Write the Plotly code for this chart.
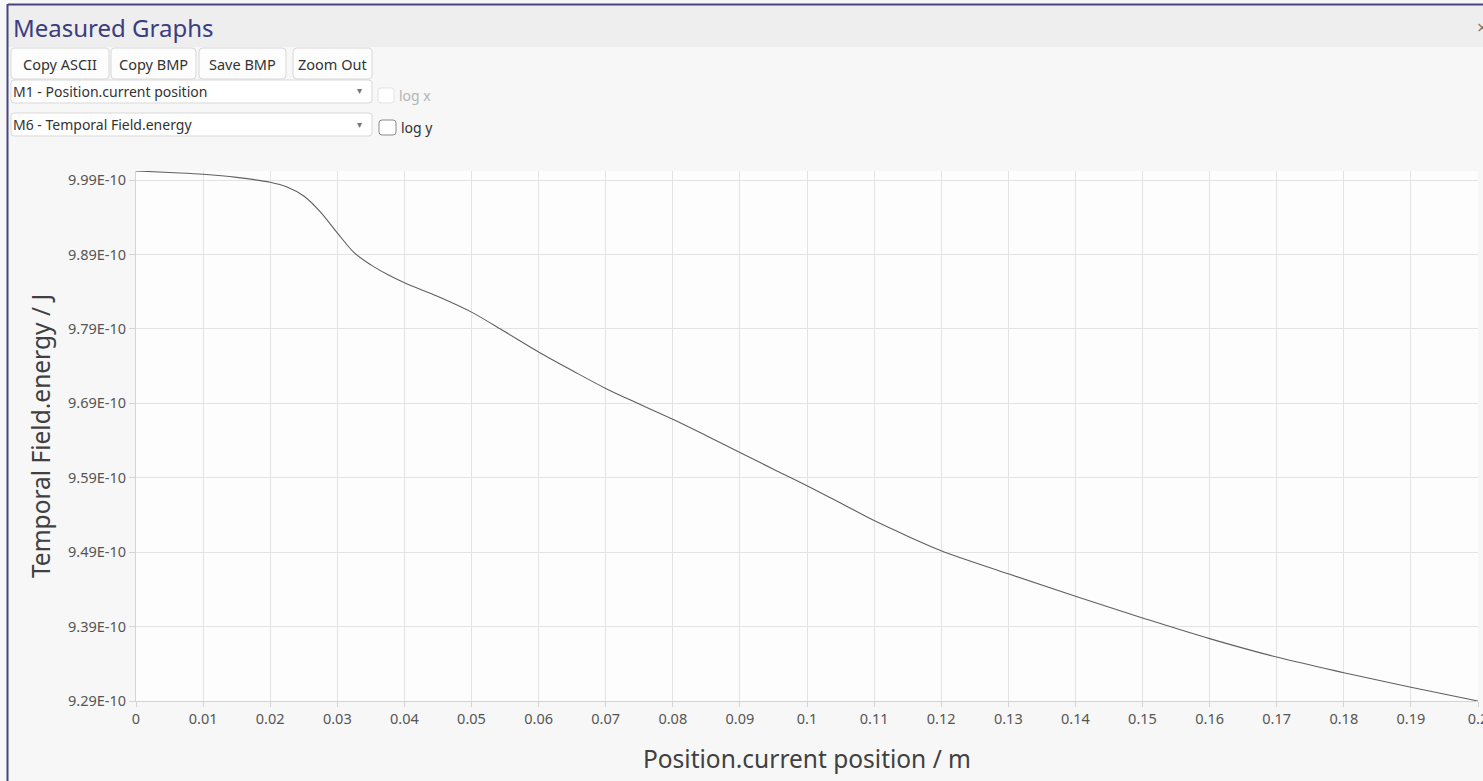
import plotly.graph_objects as go

# ---------------- data ----------------
position_m = [0, 0.005, 0.01, 0.015, 0.02, 0.0225, 0.025, 0.0275, 0.03, 0.0325,
              0.035, 0.0375, 0.04, 0.045, 0.05, 0.055, 0.06, 0.065, 0.07, 0.075,
              0.08, 0.085, 0.09, 0.095, 0.1, 0.105, 0.11, 0.115, 0.12, 0.13,
              0.14, 0.15, 0.16, 0.17, 0.18, 0.19, 0.2]
energy_1e10_J = [10.0022, 10.0000, 9.9977, 9.9936, 9.9869, 9.9805, 9.9685, 9.9470, 9.9190, 9.8925,
                 9.8760, 9.8630, 9.8520, 9.8335, 9.8125, 9.7860, 9.7590, 9.7340, 9.7100, 9.6890,
                 9.6686, 9.6465, 9.6238, 9.6015, 9.5793, 9.5560, 9.5324, 9.5115, 9.4920, 9.4609,
                 9.4306, 9.4016, 9.3738, 9.3490, 9.3280, 9.3084, 9.2900]
energy_J = [v * 1e-10 for v in energy_1e10_J]

x_tickvals = [i / 100 for i in range(0, 21)]
x_ticktext = ["0", "0.01", "0.02", "0.03", "0.04", "0.05", "0.06", "0.07", "0.08", "0.09",
              "0.1", "0.11", "0.12", "0.13", "0.14", "0.15", "0.16", "0.17", "0.18", "0.19", "0.2"]
y_tickvals = [9.29e-10, 9.39e-10, 9.49e-10, 9.59e-10, 9.69e-10, 9.79e-10, 9.89e-10, 9.99e-10]
y_ticktext = ["9.29E-10", "9.39E-10", "9.49E-10", "9.59E-10", "9.69E-10", "9.79E-10", "9.89E-10", "9.99E-10"]

buttons = ["Copy ASCII", "Copy BMP", "Save BMP", "Zoom Out"]
dropdowns = ["M1 - Position.current position", "M6 - Temporal Field.energy"]
checks = ["log x", "log y"]

# ---------------- layout helpers (pixel -> paper) ----------------
W, H = 1483, 781
L, R, T, B = 136, 1478, 171, 701


def X(px):
    return (px - L) / (R - L)


def Y(py):
    return (B - py) / (B - T)


def rrect(x0, y0, x1, y1, r):
    pts = [
        ("M", x0 + r, y0), ("L", x1 - r, y0), ("Q", x1, y0, x1, y0 + r),
        ("L", x1, y1 - r), ("Q", x1, y1, x1 - r, y1), ("L", x0 + r, y1),
        ("Q", x0, y1, x0, y1 - r), ("L", x0, y0 + r), ("Q", x0, y0, x0 + r, y0),
    ]
    s = ""
    for p in pts:
        cmd = p[0]
        coords = p[1:]
        pairs = []
        for i in range(0, len(coords), 2):
            pairs.append(f"{X(coords[i]):.6f},{Y(coords[i + 1]):.6f}")
        s += cmd + " " + " ".join(pairs) + " "
    return s + "Z"


UI_FONT = "Noto Sans"
CHART_FONT = "Noto Sans"

fig = go.Figure()
fig.add_trace(go.Scatter(
    x=position_m, y=energy_J, mode="lines",
    line=dict(color="#606060", width=1.1, shape="spline", smoothing=1.0),
    hoverinfo="skip", showlegend=False,
))

shapes = []
annotations = []

# title bar
shapes.append(dict(type="rect", xref="paper", yref="paper", x0=X(8), x1=X(1490), y0=Y(5), y1=Y(47),
                   fillcolor="#eeeeee", line=dict(width=0), layer="below"))
# window border (top + left)
shapes.append(dict(type="line", xref="paper", yref="paper", x0=X(8), x1=X(1490), y0=Y(4.5), y1=Y(4.5),
                   line=dict(color="#45457f", width=2)))
shapes.append(dict(type="line", xref="paper", yref="paper", x0=X(7.5), x1=X(7.5), y0=Y(4), y1=Y(790),
                   line=dict(color="#45457f", width=2)))
annotations.append(dict(text="Measured Graphs", xref="paper", yref="paper", x=X(11), y=Y(28),
                        xanchor="left", yanchor="middle", showarrow=False,
                        font=dict(family=UI_FONT, size=24, color="#3c3c7e")))
annotations.append(dict(text="×", xref="paper", yref="paper", x=X(1475), y=Y(27),
                        xanchor="left", yanchor="middle", showarrow=False,
                        font=dict(family=UI_FONT, size=18, color="#777777")))

# buttons
btn_x = [(11, 109), (111, 196), (199, 286), (293, 372)]
for label, (bx0, bx1) in zip(buttons, btn_x):
    shapes.append(dict(type="path", xref="paper", yref="paper", path=rrect(bx0, 48, bx1, 79, 4),
                       fillcolor="#fdfdfd", line=dict(color="#d8d8d8", width=1), layer="below"))
    annotations.append(dict(text=label, xref="paper", yref="paper", x=X((bx0 + bx1) / 2), y=Y(63.5),
                            xanchor="center", yanchor="middle", showarrow=False,
                            font=dict(family=UI_FONT, size=14.5, color="#333333")))

# dropdowns and checkboxes
dd_y = [(80, 103), (113, 136)]
cb_box = [(378, 88, 394, 103), (379, 120, 396, 135)]
cb_line = ["#e2e2e2", "#8a8a8a"]
cb_text = ["#b4b4b4", "#333333"]
cb_ty = [96, 128]
cb_tx = [397, 399]
for i, label in enumerate(dropdowns):
    y0, y1 = dd_y[i]
    shapes.append(dict(type="path", xref="paper", yref="paper", path=rrect(11, y0, 372, y1, 3),
                       fillcolor="#ffffff", line=dict(color="#d8d8d8", width=1), layer="below"))
    annotations.append(dict(text=label, xref="paper", yref="paper", x=X(11), y=Y((y0 + y1) / 2),
                            xanchor="left", yanchor="middle", showarrow=False,
                            font=dict(family=UI_FONT, size=14, color="#333333")))
    annotations.append(dict(text="▾", xref="paper", yref="paper", x=X(359), y=Y((y0 + y1) / 2 - 1),
                            xanchor="center", yanchor="middle", showarrow=False,
                            font=dict(family=UI_FONT, size=10, color="#777777")))
    cx0, cy0, cx1, cy1 = cb_box[i]
    shapes.append(dict(type="path", xref="paper", yref="paper", path=rrect(cx0, cy0, cx1, cy1, 3),
                       fillcolor="#ffffff", line=dict(color=cb_line[i], width=1), layer="below"))
    annotations.append(dict(text=checks[i], xref="paper", yref="paper", x=X(cb_tx[i]), y=Y(cb_ty[i]),
                            xanchor="left", yanchor="middle", showarrow=False,
                            font=dict(family=UI_FONT, size=14, color=cb_text[i])))

fig.update_layout(
    width=W, height=H,
    margin=dict(l=L, r=W - R, t=T, b=H - B, pad=0),
    paper_bgcolor="#f7f7f7",
    plot_bgcolor="#fdfdfd",
    shapes=shapes,
    annotations=annotations,
    showlegend=False,
    xaxis=dict(
        range=[0, 0.2000001], tickmode="array", tickvals=x_tickvals, ticktext=x_ticktext,
        showgrid=True, gridcolor="#e3e3e3", gridwidth=1, zeroline=False,
        showline=True, linecolor="#d4d4d4", linewidth=1, mirror=False,
        ticks="outside", ticklen=5, tickcolor="#d4d4d4",
        ticklabeloverflow="allow",
        tickfont=dict(family=CHART_FONT, size=14.5, color="#555555"),
        title=dict(text="Position.current position / m", standoff=23,
                   font=dict(family=CHART_FONT, size=24.5, color="#404040")),
        automargin=False,
    ),
    yaxis=dict(
        range=[9.29e-10, 10.0021e-10], tickmode="array", tickvals=y_tickvals, ticktext=y_ticktext,
        showgrid=True, gridcolor="#e3e3e3", gridwidth=1, zeroline=False,
        showline=True, linecolor="#d4d4d4", linewidth=1,
        ticks="outside", ticklen=6, tickcolor="#d4d4d4",
        tickfont=dict(family=CHART_FONT, size=14.5, color="#555555"),
        title=dict(text="Temporal Field.energy / J", standoff=10,
                   font=dict(family=CHART_FONT, size=24.5, color="#404040")),
        automargin=False,
    ),
)

fig.write_html("out.html", config={"displayModeBar": False})
